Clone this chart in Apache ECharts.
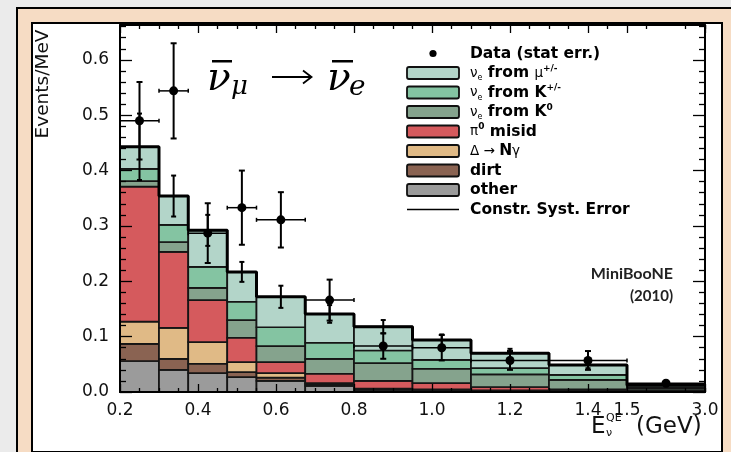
<!DOCTYPE html>
<html><head><meta charset="utf-8">
<script src="https://cdn.jsdelivr.net/npm/echarts@6/dist/echarts.min.js"></script>
<style>
html,body{margin:0;padding:0;background:#ebebeb;width:731px;height:452px;overflow:hidden;}
#outer{position:absolute;left:16px;top:7px;width:800px;height:500px;box-sizing:border-box;border:2px solid #000;background:#f6dcc4;}
#inner{position:absolute;left:31px;top:22px;width:692px;height:431px;box-sizing:border-box;border:2px solid #000;background:#fff;}
#chart{position:absolute;left:0;top:0;width:731px;height:452px;}
</style></head><body>
<div id="outer"></div><div id="inner"></div><div id="chart"></div>
<script>
// ---- data (Events/MeV) ----
const binEdges = [0.2,0.3,0.375,0.475,0.55,0.675,0.8,0.95,1.1,1.3,1.5,3.0];
// cumulative stack tops, bottom component first
const topOther = [0.056,0.040,0.034,0.027,0.020,0.011,0.004,0.003,0.002,0.001,0.0005];
const topDirt  = [0.087,0.060,0.051,0.036,0.026,0.014,0.005,0.004,0.003,0.002,0.001];
const topDelta = [0.127,0.116,0.090,0.054,0.034,0.016,0.006,0.005,0.003,0.002,0.001];
const topPi0   = [0.371,0.253,0.166,0.098,0.054,0.033,0.020,0.016,0.009,0.005,0.002];
const topK0    = [0.381,0.271,0.188,0.130,0.083,0.060,0.052,0.042,0.032,0.022,0.006];
const topKpm   = [0.403,0.302,0.226,0.163,0.117,0.089,0.075,0.058,0.043,0.031,0.008];
const topMu    = [0.443,0.354,0.292,0.217,0.172,0.141,0.118,0.094,0.070,0.049,0.012];
const systErr  = [0.060,0.037,0.028,0.018,0.020,0.016,0.012,0.010,0.008,0.006,0.002];
const dataX    = [0.25,0.3375,0.425,0.5125,0.6125,0.7375,0.875,1.025,1.2,1.4,2.25];
const dataY    = [0.490,0.544,0.287,0.333,0.311,0.166,0.083,0.080,0.057,0.057,0.016];
const dataErr  = [0.070,0.086,0.054,0.067,0.050,0.037,0.023,0.023,0.017,0.017,0.003];
const compNames  = ['other','dirt','Delta','pi0','K0','Kpm','mu'];
const compColors = ['#9b9b9b','#8a6352','#e0ba86','#d55a5d','#85a38d','#84c4a2','#b3d5c9'];
const xTickValues = [0.2,0.4,0.6,0.8,1.0,1.2,1.4,1.5,1.7];
const xTickLabels = ['0.2','0.4','0.6','0.8','1.0','1.2','1.4','1.5','3.0'];
const yTickLabels = ['0.0','0.1','0.2','0.3','0.4','0.5','0.6'];
const legendTexts = [
  '{b|Data (stat err.)}',
  '{g|ν}{sub|e}{b| from }{g|μ}{sup|+/-}',
  '{g|ν}{sub|e}{b| from K}{sup|+/-}',
  '{g|ν}{sub|e}{b| from K}{sup|0}',
  '{g|π}{sup|0}{b| misid}',
  '{g|Δ → }{b|N}{g|γ}',
  '{b|dirt}',
  '{b|other}',
  '{b|Constr. Syst. Error}'
];

// piecewise axis: 1.5–3.0 GeV compressed
function disp(e){ return e <= 1.5 ? e : 1.5 + (e - 1.5) * (0.2 / 1.5); }

const tops = [topOther, topDirt, topDelta, topPi0, topK0, topKpm, topMu];
const xMinor = [];
for (let i = 5; i <= 34; i++) { const v = Math.round(i * 5) / 100; if (i % 4 !== 0 && i !== 30) xMinor.push(v); }
const yMajor = yTickLabels.map((s) => parseFloat(s));
const yMinor = [];
for (let i = 1; i <= 33; i++) { if (i % 5 !== 0) yMinor.push(Math.round(i * 2) / 100); }

const series = [];
tops.forEach((arr, k) => {
  const data = arr.map((t, i) => [disp(binEdges[i]), disp(binEdges[i + 1]), k === 0 ? 0 : tops[k - 1][i], t]);
  series.push({
    type: 'custom', name: compNames[k], z: 2 + k, data,
    encode: { x: [0, 1], y: [2, 3] },
    renderItem: (params, api) => {
      const p0 = api.coord([api.value(0), api.value(3)]);
      const p1 = api.coord([api.value(1), api.value(2)]);
      return { type: 'rect', shape: { x: p0[0], y: p0[1], width: p1[0] - p0[0], height: p1[1] - p0[1] },
        style: { fill: compColors[k], stroke: '#151515', lineWidth: 1.7 } };
    }
  });
});
// outline of total
const outline = topMu.map((t, i) => [disp(binEdges[i]), t]);
outline.push([disp(binEdges[binEdges.length - 1]), topMu[topMu.length - 1]]);
series.push({ type: 'line', step: 'end', data: outline, symbol: 'none', z: 12,
  lineStyle: { color: '#000', width: 3 }, silent: true });
// constrained syst error bars on prediction
series.push({
  type: 'custom', name: 'syst', z: 13,
  data: topMu.map((t, i) => [disp(dataX[i]), t, systErr[i]]),
  encode: { x: 0, y: 1 },
  renderItem: (params, api) => {
    const x = api.value(0), y = api.value(1), e = api.value(2);
    const a = api.coord([x, y + e]), b = api.coord([x, y - e]);
    const st = { stroke: '#000', lineWidth: 2 };
    return { type: 'group', children: [
      { type: 'line', shape: { x1: a[0], y1: a[1], x2: b[0], y2: b[1] }, style: st },
      { type: 'line', shape: { x1: a[0] - 2.5, y1: a[1], x2: a[0] + 2.5, y2: a[1] }, style: st },
      { type: 'line', shape: { x1: b[0] - 2.5, y1: b[1], x2: b[0] + 2.5, y2: b[1] }, style: st }
    ] };
  }
});
// data points
series.push({
  type: 'custom', name: 'data', z: 14,
  data: dataY.map((y, i) => [disp(dataX[i]), y, dataErr[i], disp(binEdges[i]), disp(binEdges[i + 1])]),
  encode: { x: 0, y: 1 },
  renderItem: (params, api) => {
    const x = api.value(0), y = api.value(1), e = api.value(2);
    const c = api.coord([x, y]);
    const a = api.coord([x, y + e]), b = api.coord([x, y - e]);
    const l = api.coord([api.value(3), y]), r = api.coord([api.value(4), y]);
    const st = { stroke: '#000', lineWidth: 2 };
    const st2 = { stroke: '#000', lineWidth: 1.5 };
    return { type: 'group', children: [
      { type: 'line', shape: { x1: a[0], y1: a[1], x2: b[0], y2: b[1] }, style: st },
      { type: 'line', shape: { x1: a[0] - 3, y1: a[1], x2: a[0] + 3, y2: a[1] }, style: st },
      { type: 'line', shape: { x1: b[0] - 3, y1: b[1], x2: b[0] + 3, y2: b[1] }, style: st },
      { type: 'line', shape: { x1: l[0], y1: l[1], x2: r[0], y2: r[1] }, style: st2 },
      { type: 'line', shape: { x1: l[0], y1: l[1] - 2, x2: l[0], y2: l[1] + 2 }, style: st2 },
      { type: 'line', shape: { x1: r[0], y1: r[1] - 2, x2: r[0], y2: r[1] + 2 }, style: st2 },
      { type: 'circle', shape: { cx: c[0], cy: c[1], r: 4.5 }, style: { fill: '#000' } }
    ] };
  }
});

const FONT = '"DejaVu Sans", sans-serif';
const axisCommon = { type: 'value', z: 20, splitLine: { show: false } };
function xAx(pos, major) {
  return Object.assign({}, axisCommon, {
    position: pos, min: 0.2, max: 1.7,
    axisLine: { show: major, onZero: false, lineStyle: { color: '#000', width: 2 } },
    axisTick: { show: true, inside: true, length: major ? 8 : 4, customValues: major ? xTickValues : xMinor,
      lineStyle: { color: '#000', width: 1.3 } },
    axisLabel: (pos === 'bottom' && major) ? {
      show: true, customValues: xTickValues, margin: 10, fontFamily: FONT, fontSize: 17, color: '#111',
      formatter: (v) => { const i = xTickValues.findIndex((t) => Math.abs(t - v) < 1e-6); return i >= 0 ? xTickLabels[i] : ''; }
    } : { show: false }
  });
}
function yAx(pos, major) {
  return Object.assign({}, axisCommon, {
    position: pos, min: 0, max: 0.663,
    axisLine: { show: major, onZero: false, lineStyle: { color: '#000', width: 2 } },
    axisTick: { show: true, inside: true, length: major ? 12 : 6, customValues: major ? yMajor : yMinor,
      lineStyle: { color: '#000', width: 1.3 } },
    axisLabel: (pos === 'left' && major) ? {
      show: true, customValues: yMajor, margin: 11, fontFamily: FONT, fontSize: 17, color: '#111',
      formatter: (v) => { const i = yMajor.findIndex((t) => Math.abs(t - v) < 1e-6); return i >= 0 ? yTickLabels[i] : ''; }
    } : { show: false }
  });
}

// legend (graphic)
const legendGraphics = [];
const LX = 407, LY = 53.5, LSTEP = 19.5;
legendTexts.forEach((txt, i) => {
  const cy = LY + i * LSTEP;
  if (i === 0) {
    legendGraphics.push({ type: 'circle', shape: { cx: 433, cy: cy, r: 3.6 }, style: { fill: '#000' } });
  } else if (i === legendTexts.length - 1) {
    legendGraphics.push({ type: 'line', shape: { x1: LX, y1: cy, x2: LX + 52, y2: cy }, style: { stroke: '#000', lineWidth: 1.6 } });
  } else {
    const col = compColors[compColors.length - i];
    legendGraphics.push({ type: 'rect', shape: { x: LX, y: cy - 6, width: 52, height: 12, r: 2 },
      style: { fill: col, stroke: '#111', lineWidth: 1.8 } });
  }
  legendGraphics.push({ type: 'text', x: 470, y: cy, style: {
    text: txt, align: 'left', verticalAlign: 'middle', fill: '#000',
    rich: {
      b: { fontFamily: FONT, fontWeight: 'bold', fontSize: 15.5, lineHeight: 18 },
      g: { fontFamily: FONT, fontSize: 13.5, lineHeight: 18 },
      sub: { fontFamily: FONT, fontSize: 8, lineHeight: 9, verticalAlign: 'bottom' },
      sup: { fontFamily: FONT, fontSize: 9, fontWeight: 'bold', lineHeight: 10, verticalAlign: 'top' }
    } } });
});

const MATH = '"DejaVu Serif", serif';
const titleGraphics = [
  { type: 'text', x: 207, y: 80, style: { text: 'ν', font: 'italic 39px ' + MATH, fill: '#000', verticalAlign: 'middle' } },
  { type: 'rect', shape: { x: 212, y: 60, width: 20, height: 2.5 }, style: { fill: '#000' } },
  { type: 'text', x: 231, y: 87, style: { text: 'μ', font: 'italic 26px ' + MATH, fill: '#000', verticalAlign: 'middle' } },
  { type: 'line', shape: { x1: 272, y1: 77, x2: 311, y2: 77 }, style: { stroke: '#000', lineWidth: 1.8 } },
  { type: 'polyline', shape: { points: [[303, 70.5], [311.5, 77], [303, 83.5]] }, style: { stroke: '#000', lineWidth: 1.8, fill: null } },
  { type: 'text', x: 327, y: 80, style: { text: 'ν', font: 'italic 39px ' + MATH, fill: '#000', verticalAlign: 'middle' } },
  { type: 'rect', shape: { x: 332, y: 60, width: 21, height: 2.5 }, style: { fill: '#000' } },
  { type: 'text', x: 349, y: 88, style: { text: 'e', font: 'italic 28px ' + MATH, fill: '#000', verticalAlign: 'middle' } },
  // axis titles
  { type: 'text', x: 43, y: 84, rotation: Math.PI / 2, style: { text: 'Events/MeV', font: '18.5px ' + FONT, fill: '#111', align: 'center', verticalAlign: 'middle' } },
  { type: 'text', x: 591, y: 427, style: { text: 'E', font: '23px ' + FONT, fill: '#111', verticalAlign: 'middle' } },
  { type: 'text', x: 606, y: 418, style: { text: 'QE', font: '11px ' + FONT, fill: '#111', verticalAlign: 'middle' } },
  { type: 'text', x: 606, y: 433, style: { text: 'ν', font: '11px ' + FONT, fill: '#111', verticalAlign: 'middle' } },
  { type: 'text', x: 636, y: 427, style: { text: '(GeV)', font: '23px ' + FONT, fill: '#111', verticalAlign: 'middle' } },
  // annotation
  { type: 'text', x: 673, y: 274, style: { text: 'MiniBooNE', font: 'bold 16px Lato, sans-serif', fill: '#222', align: 'right', verticalAlign: 'middle' } },
  { type: 'text', x: 673, y: 296, style: { text: '(2010)', font: 'bold 15px Lato, sans-serif', fill: '#222', align: 'right', verticalAlign: 'middle' } }
];

const chart = echarts.init(document.getElementById('chart'), null, { renderer: 'canvas' });
chart.setOption({
  backgroundColor: 'transparent',
  animation: false,
  grid: { left: 120, top: 25, width: 585, height: 367, show: false },
  xAxis: [xAx('bottom', true), xAx('bottom', false), xAx('top', true), xAx('top', false)],
  yAxis: [yAx('left', true), yAx('left', false), yAx('right', true), yAx('right', false)],
  series: series,
  graphic: { elements: legendGraphics.concat(titleGraphics) }
});
</script></body></html>
